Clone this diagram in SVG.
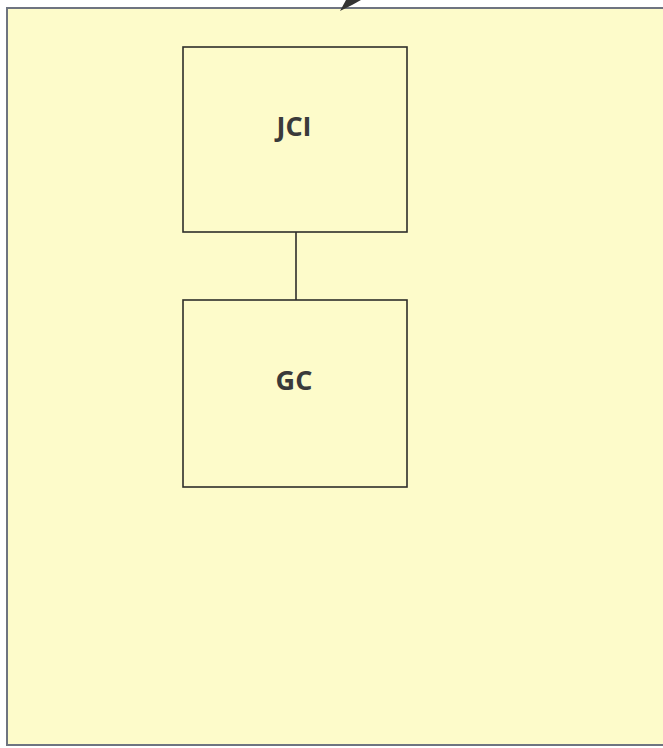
<svg xmlns="http://www.w3.org/2000/svg" width="663" height="748" viewBox="0 0 663 748">
<style>
.node rect{fill:none;stroke:#2e2e2a;stroke-width:1.6}
.node text{font-family:"Open Sans","Liberation Sans",sans-serif;font-weight:bold;font-size:27px;fill:#3a3a3a;text-anchor:middle}
.conn line{stroke:#2e2e2a;stroke-width:1.6}
</style>
<rect x="0" y="0" width="663" height="748" fill="#ffffff"/>
<g id="frame">
<rect x="7" y="8" width="665" height="737" fill="#fdfbca" stroke="#6e7480" stroke-width="2"/>
<polygon points="340,11 346,0 361,0 352,5" fill="#333333"/>
</g>
<g id="connectors" class="conn">
<line x1="296" y1="232" x2="296" y2="300"/>
</g>
<g id="JCI" class="node">
<rect x="183" y="47" width="224" height="185"/>
<text x="294" y="136">JCI</text>
</g>
<g id="GC" class="node">
<rect x="183" y="300" width="224" height="187"/>
<text x="294" y="390">GC</text>
</g>
</svg>
